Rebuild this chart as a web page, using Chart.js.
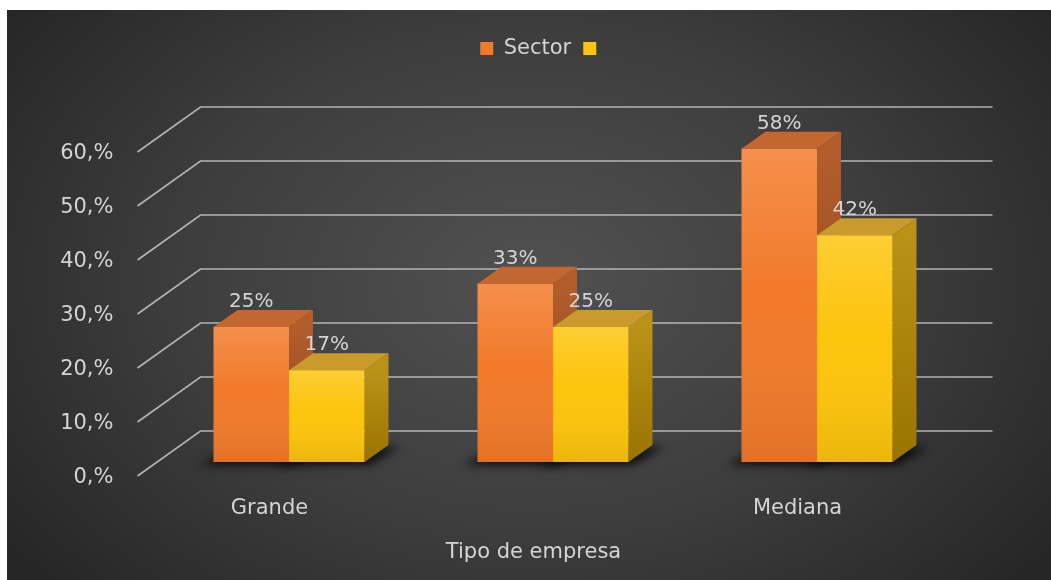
<!DOCTYPE html>
<html>
<head>
<meta charset="utf-8">
<script src="https://cdn.jsdelivr.net/npm/chart.js@4.4.0/dist/chart.umd.min.js"></script>
<style>
  body { margin: 0; background: #fff; }
  #caja { position: absolute; left: 7px; top: 10px; width: 1044px; height: 570px; }
</style>
</head>
<body>
<div id="caja"><canvas id="graficoEmpresa"></canvas></div>
<script>
// Datos
const categorias = ['Grande', '', 'Mediana'];
const valoresSector = [25, 33, 58];
const valoresSerie2 = [17, 25, 42];
const ticksY = [0, 10, 20, 30, 40, 50, 60];

// Profundidad del piso/pared lateral y posicion de las barras dentro de ella
const PROF_X = 63, PROF_Y = 45;
const FRENTE = 0.31, FONDO = 0.69;
const despX = PROF_X * FRENTE, despY = PROF_Y * FRENTE;
const barX = PROF_X * (FONDO - FRENTE), barY = PROF_Y * (FONDO - FRENTE);

const caras = [
    { lado: ['#b35d2c', '#8c4418'], tapa: '#c3662f' },
    { lado: ['#bb9218', '#987400'], tapa: '#c99a2c' }
];

const fuente = '"DejaVu Sans", sans-serif';
const colorTexto = '#d4d4d4';

const efecto3D = {
    id: 'efecto3D',
    beforeInit(chart) {
        // espacio entre la leyenda y el area del grafico
        const fit = chart.legend.fit;
        chart.legend.fit = function () {
            fit.call(this);
            this.height = 126;
        };
    },
    afterLayout(chart) {
        // leyenda un poco a la derecha del centro
        chart.legend.left += 10;
        chart.legend.right += 10;
    },
    beforeDraw(chart) {
        const { ctx, width, height } = chart;
        const cx = 525, cy = 270, sx = width * 0.62, sy = height * 0.8;
        ctx.save();
        ctx.translate(cx, cy);
        ctx.scale(sx, sy);
        const g = ctx.createRadialGradient(0, 0, 0, 0, 0, 1);
        g.addColorStop(0, '#515151');
        g.addColorStop(0.55, '#3d3d3d');
        g.addColorStop(1, '#262626');
        ctx.fillStyle = g;
        ctx.fillRect(-cx / sx, -cy / sy, width / sx, height / sy);
        ctx.restore();
    },
    beforeDatasetsDraw(chart) {
        const { ctx, chartArea: a, scales: { y } } = chart;
        ctx.save();
        // cuadricula: pared lateral + pared de fondo
        ctx.strokeStyle = 'rgba(200,200,200,0.85)';
        ctx.lineWidth = 1.7;
        y.ticks.forEach(t => {
            const py = y.getPixelForValue(t.value);
            ctx.beginPath();
            ctx.moveTo(a.left, py);
            ctx.lineTo(a.left + PROF_X, py - PROF_Y);
            ctx.lineTo(a.right + PROF_X, py - PROF_Y);
            ctx.stroke();
        });

        const barras = [];
        chart.data.datasets.forEach((ds, i) => {
            chart.getDatasetMeta(i).data.forEach(bar => {
                barras.push({
                    i,
                    l: bar.x - bar.width / 2 + despX,
                    r: bar.x + bar.width / 2 + despX,
                    t: bar.y - despY,
                    b: bar.base - despY
                });
            });
        });

        // sombra sobre el piso
        ctx.save();
        ctx.filter = 'blur(5px)';
        ctx.fillStyle = 'rgba(0,0,0,0.8)';
        barras.forEach(p => {
            ctx.beginPath();
            ctx.moveTo(p.l - 15, p.b + 3);
            ctx.lineTo(p.r + 4, p.b + 3);
            ctx.lineTo(p.r + barX + 12, p.b - barY + 2);
            ctx.lineTo(p.l + barX, p.b - barY + 2);
            ctx.closePath();
            ctx.fill();
        });
        ctx.restore();

        // caras laterales y superiores
        barras.forEach(p => {
            const c = caras[p.i];
            const gl = ctx.createLinearGradient(0, p.t, 0, p.b);
            gl.addColorStop(0, c.lado[0]);
            gl.addColorStop(1, c.lado[1]);
            ctx.fillStyle = gl;
            ctx.beginPath();
            ctx.moveTo(p.r, p.t);
            ctx.lineTo(p.r + barX, p.t - barY);
            ctx.lineTo(p.r + barX, p.b - barY);
            ctx.lineTo(p.r, p.b);
            ctx.closePath();
            ctx.fill();

            ctx.fillStyle = c.tapa;
            ctx.beginPath();
            ctx.moveTo(p.l, p.t);
            ctx.lineTo(p.l + barX, p.t - barY);
            ctx.lineTo(p.r + barX, p.t - barY);
            ctx.lineTo(p.r, p.t);
            ctx.closePath();
            ctx.fill();
        });
        ctx.restore();

        // las caras frontales se dibujan desplazadas hacia el fondo
        ctx.save();
        ctx.translate(despX, -despY);
    },
    afterDatasetsDraw(chart) {
        const { ctx } = chart;
        chart.data.datasets.forEach((ds, i) => {
            chart.getDatasetMeta(i).data.forEach((bar, j) => {
                const l = bar.x - bar.width / 2;
                const g = ctx.createLinearGradient(0, bar.y, 0, bar.base);
                g.addColorStop(0, 'rgba(255,255,255,0.16)');
                g.addColorStop(0.45, 'rgba(255,255,255,0)');
                g.addColorStop(1, 'rgba(0,0,0,0.07)');
                ctx.fillStyle = g;
                ctx.fillRect(l, bar.y, bar.width, bar.base - bar.y);

                ctx.font = '20px ' + fuente;
                ctx.fillStyle = colorTexto;
                ctx.textAlign = 'center';
                ctx.textBaseline = 'middle';
                ctx.fillText(ds.data[j] + '%', bar.x, bar.y - 25);
            });
        });
        ctx.restore();
    }
};

const ctxEmpresa = document.getElementById('graficoEmpresa').getContext('2d');
const graficoEmpresa = new Chart(ctxEmpresa, {
    type: 'bar',
    data: {
        labels: categorias,
        datasets: [{
            label: 'Sector',
            data: valoresSector,
            backgroundColor: '#f27a2a',
            categoryPercentage: 0.572,
            barPercentage: 1
        }, {
            label: '',
            data: valoresSerie2,
            backgroundColor: '#fdc40c',
            categoryPercentage: 0.572,
            barPercentage: 1
        }]
    },
    options: {
        responsive: true,
        maintainAspectRatio: false,
        animation: false,
        events: [],
        layout: {
            padding: { top: 16, right: 121.5, bottom: 15, left: 0 }
        },
        scales: {
            x: {
                grid: { display: false, drawTicks: false },
                border: { display: false },
                ticks: {
                    color: colorTexto,
                    padding: 20,
                    font: { family: fuente, size: 21 }
                },
                title: {
                    display: true,
                    text: 'Tipo de empresa',
                    color: colorTexto,
                    padding: 0,
                    font: { family: fuente, size: 21 }
                },
                afterFit: s => { s.height = 89; }
            },
            y: {
                min: ticksY[0],
                max: ticksY[ticksY.length - 1],
                grid: { display: false, drawTicks: false },
                border: { display: false },
                afterBuildTicks: s => { s.ticks = ticksY.map(v => ({ value: v })); },
                ticks: {
                    color: colorTexto,
                    padding: 24,
                    labelOffset: 2,
                    font: { family: fuente, size: 21 },
                    callback: v => v + ',%'
                },
                afterFit: s => { s.width = 130.5; }
            }
        },
        plugins: {
            tooltip: { enabled: false },
            legend: {
                position: 'top',
                fullSize: false,
                labels: {
                    color: colorTexto,
                    boxWidth: 13,
                    boxHeight: 13,
                    padding: 12,
                    font: { family: fuente, size: 21 }
                }
            }
        }
    },
    plugins: [efecto3D]
});
</script>
</body>
</html>
